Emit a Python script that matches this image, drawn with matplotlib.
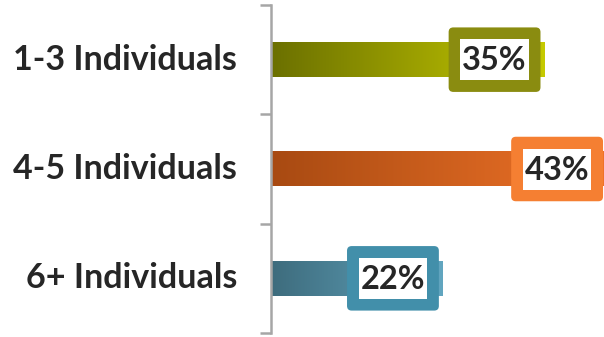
import numpy as np
import matplotlib
matplotlib.use("Agg")
import matplotlib.pyplot as plt
from matplotlib.colors import LinearSegmentedColormap
from matplotlib.patches import FancyBboxPatch, Rectangle

categories = ["1-3 Individuals", "4-5 Individuals", "6+ Individuals"]
values = [35, 43, 22]

# gradient start, gradient end, label box colour
bar_left = ["#6b7000", "#a84a12", "#3e6c7d"]
bar_right = ["#c6ca00", "#f07328", "#62a6c0"]
box_colors = ["#8a8c10", "#f57f32", "#428faa"]

FONT = ["Lato", "DejaVu Sans"]
TEXT_COLOR = "#262626"

fig = plt.figure(figsize=(6.04, 3.37), dpi=100)
ax = fig.add_axes([271 / 604, 4 / 337, 1 - 271 / 604, 328 / 337])

xmax = 42.6
ax.set_xlim(0, xmax)
ax.set_ylim(2.5, -0.5)

bar_h = 0.32
grad = np.linspace(0, 1, 256).reshape(1, -1)
for i, (cat, val) in enumerate(zip(categories, values)):
    cmap = LinearSegmentedColormap.from_list(f"g{i}", [bar_left[i], bar_right[i]])
    ax.imshow(grad, cmap=cmap, aspect="auto",
              extent=(0, val, i + bar_h / 2, i - bar_h / 2), zorder=2)

    # label box: coloured rounded frame with white inner panel
    cx = val - 6.4
    ow, oh = 11.75, 0.59
    outer = FancyBboxPatch((cx - ow / 2, i - oh / 2), ow, oh,
                           boxstyle="round,pad=0,rounding_size=0.6",
                           mutation_aspect=7.83 / 110,
                           facecolor=box_colors[i], edgecolor="none", zorder=3)
    ax.add_patch(outer)
    iw, ih = 8.8, 0.375
    ax.add_patch(Rectangle((cx - iw / 2, i - ih / 2), iw, ih,
                           facecolor="white", edgecolor="none", zorder=4))
    ax.text(cx, i + 0.01, f"{val}%", ha="center", va="center",
            fontsize=23.5, fontweight="bold", family=FONT, color=TEXT_COLOR, zorder=5)

    ax.text(-34 / 7.83, i, cat, ha="right", va="center",
            fontsize=24.5, fontweight="bold", family=FONT, color=TEXT_COLOR)

ax.set_xticks([])
ax.set_yticks([-0.5, 0.5, 1.5, 2.5])
ax.set_yticklabels([])
ax.tick_params(axis="y", direction="out", length=8, width=1.8, color="#a6a6a6")
for side in ["top", "right", "bottom"]:
    ax.spines[side].set_visible(False)
ax.spines["left"].set_color("#a6a6a6")
ax.spines["left"].set_linewidth(1.8)

fig.savefig("out.png", dpi=100)
